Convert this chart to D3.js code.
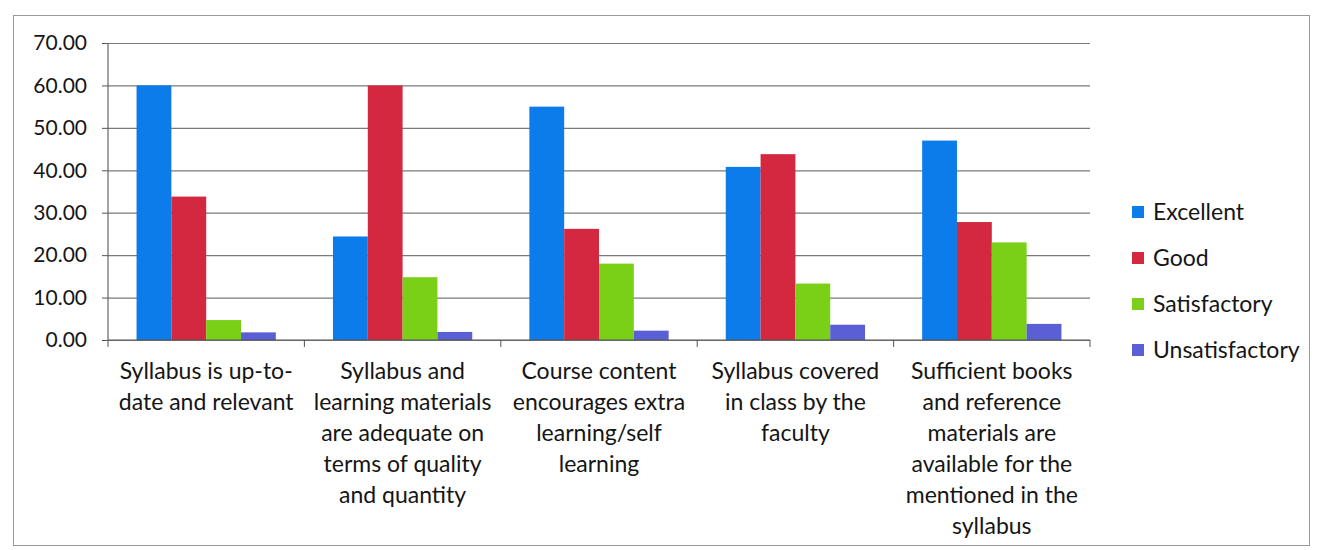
<!DOCTYPE html>
<html>
<head>
<meta charset="utf-8">
<script src="https://cdn.jsdelivr.net/npm/d3@7"></script>
<style>
  body { margin: 0; background: #fff; }
  svg text { font-family: Lato, "Open Sans", sans-serif; fill: #151515; }
</style>
</head>
<body>
<div id="chart"></div>
<script>
// datos
var categorias = [
  ['Syllabus is up-to-', 'date and relevant'],
  ['Syllabus and', 'learning materials', 'are adequate on', 'terms of quality', 'and quantity'],
  ['Course content', 'encourages extra', 'learning/self', 'learning'],
  ['Syllabus covered', 'in class by the', 'faculty'],
  ['Sufficient books', 'and reference', 'materials are', 'available for the', 'mentioned in the', 'syllabus']
];
var series = ['Excellent', 'Good', 'Satisfactory', 'Unsatisfactory'];
var excellent = [60.0, 24.4, 55.0, 40.8, 47.0];
var good = [33.8, 60.0, 26.2, 43.8, 27.8];
var satisfactory = [4.7, 14.8, 18.0, 13.3, 23.0];
var unsatisfactory = [1.8, 1.9, 2.2, 3.6, 3.8];
var yTicks = [0, 10, 20, 30, 40, 50, 60, 70];
var colores = ['#0b7ce9', '#d3283f', '#7ad016', '#5a5fd6'];

var valores = [excellent, good, satisfactory, unsatisfactory];

var ancho = 1317, alto = 550;
var margen = { left: 108, right: 227, top: 43, bottom: 210 };

var svg = d3.select('#chart').append('svg')
    .attr('width', ancho)
    .attr('height', alto);

// marco exterior
svg.append('rect')
    .attr('x', 13.5).attr('y', 15.5)
    .attr('width', 1296).attr('height', 530)
    .attr('fill', 'none')
    .attr('stroke', '#9a9a9a');

var x0 = d3.scaleBand()
    .domain(d3.range(categorias.length))
    .range([margen.left, ancho - margen.right])
    .padding(0);

var x1 = d3.scaleBand()
    .domain(series)
    .range([0, x0.bandwidth()])
    .paddingInner(0)
    .paddingOuter(0.82);

var y = d3.scaleLinear()
    .domain([0, 70])
    .range([alto - margen.bottom, margen.top]);

// eje Y con lineas de grilla
var ejeY = svg.append('g')
    .attr('transform', 'translate(' + margen.left + ',0)')
    .call(d3.axisLeft(y).tickValues(yTicks).tickFormat(d3.format('.2f'))
        .tickSize(-(ancho - margen.left - margen.right)).tickPadding(21));
ejeY.select('.domain').remove();
ejeY.selectAll('.tick line').attr('stroke', '#7a7a7a').attr('stroke-width', 1.2);
ejeY.selectAll('.tick text').attr('font-size', 21).style('fill', '#151515');
// pequeñas marcas a la izquierda
ejeY.selectAll('.tick').append('line')
    .attr('x1', -6).attr('x2', 0)
    .attr('stroke', '#555');
svg.append('line')
    .attr('x1', margen.left).attr('x2', margen.left)
    .attr('y1', y(70)).attr('y2', y(0))
    .attr('stroke', '#666').attr('stroke-width', 1.2);

// barras
var grupos = svg.append('g').selectAll('g')
    .data(categorias)
    .join('g')
    .attr('transform', function (d, i) { return 'translate(' + x0(i) + ',0)'; });

grupos.selectAll('rect')
    .data(function (d, i) { return series.map(function (s, j) { return { s: s, j: j, v: valores[j][i] }; }); })
    .join('rect')
    .attr('x', function (d) { return x1(d.s); })
    .attr('y', function (d) { return y(d.v); })
    .attr('width', x1.bandwidth())
    .attr('height', function (d) { return y(0) - y(d.v); })
    .attr('fill', function (d) { return colores[d.j]; });

// eje X
svg.append('line')
    .attr('x1', margen.left).attr('x2', ancho - margen.right)
    .attr('y1', y(0)).attr('y2', y(0))
    .attr('stroke', '#555').attr('stroke-width', 1.2);
svg.append('g').selectAll('line')
    .data(d3.range(categorias.length + 1))
    .join('line')
    .attr('x1', function (d) { return margen.left + d * x0.step(); })
    .attr('x2', function (d) { return margen.left + d * x0.step(); })
    .attr('y1', y(0)).attr('y2', y(0) + 7)
    .attr('stroke', '#555');

// etiquetas de categoria
var etiquetas = svg.append('g').selectAll('text')
    .data(categorias)
    .join('text')
    .attr('text-anchor', 'middle')
    .attr('font-size', 23)
    .attr('x', function (d, i) { return x0(i) + x0.bandwidth() / 2; })
    .attr('y', 379);
etiquetas.selectAll('tspan')
    .data(function (d) { return d; })
    .join('tspan')
    .attr('x', function () { return d3.select(this.parentNode).attr('x'); })
    .attr('dy', function (d, i) { return i === 0 ? 0 : 31; })
    .text(function (d) { return d; });

// leyenda
var leyenda = svg.append('g').selectAll('g')
    .data(series)
    .join('g')
    .attr('transform', function (d, i) { return 'translate(1132,' + (212 + i * 46) + ')'; });
leyenda.append('rect')
    .attr('x', 0).attr('y', -6)
    .attr('width', 12).attr('height', 12)
    .attr('fill', function (d, i) { return colores[i]; });
leyenda.append('text')
    .attr('x', 21).attr('dy', '0.35em')
    .attr('font-size', 23)
    .text(function (d) { return d; });
</script>
</body>
</html>
